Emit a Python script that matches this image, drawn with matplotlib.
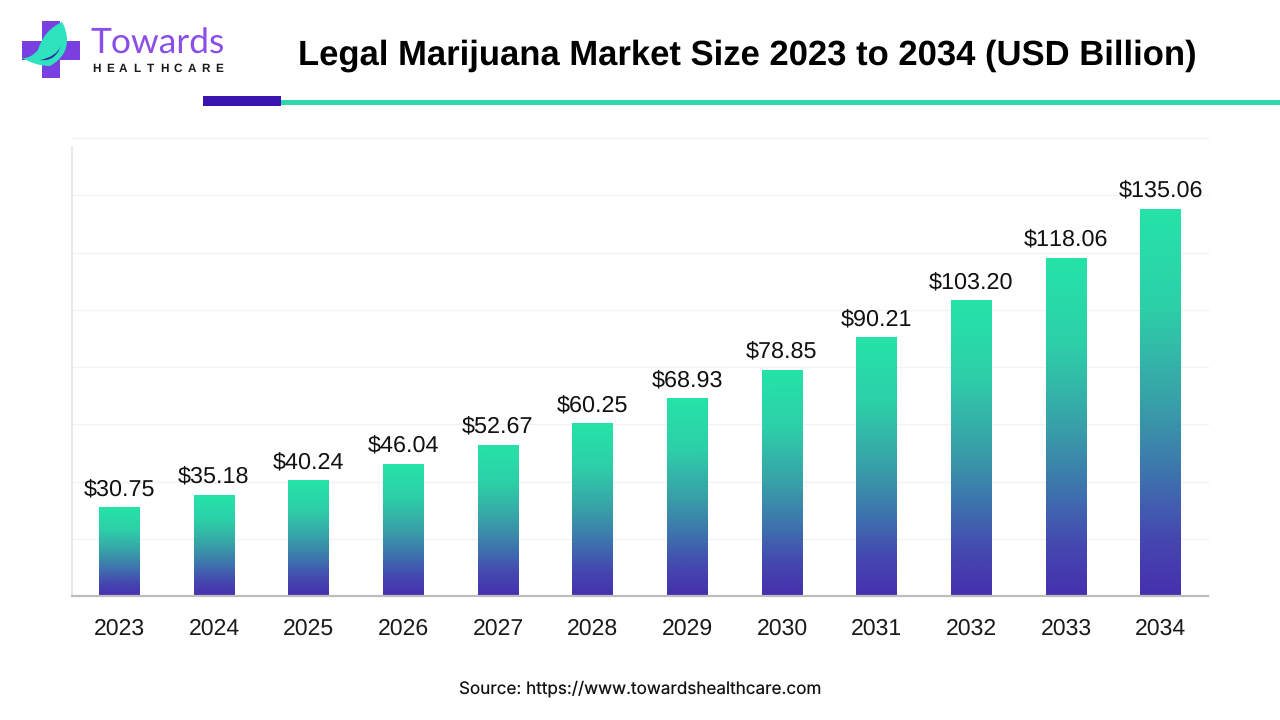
import numpy as np
import matplotlib
matplotlib.use('Agg')
import matplotlib.pyplot as plt
from matplotlib.colors import LinearSegmentedColormap
from matplotlib.patches import Rectangle, PathPatch
from matplotlib.path import Path

years = ['2023', '2024', '2025', '2026', '2027', '2028', '2029', '2030', '2031', '2032', '2033', '2034']
values = [30.75, 35.18, 40.24, 46.04, 52.67, 60.25, 68.93, 78.85, 90.21, 103.20, 118.06, 135.06]
labels = ['$30.75', '$35.18', '$40.24', '$46.04', '$52.67', '$60.25', '$68.93', '$78.85', '$90.21', '$103.20', '$118.06', '$135.06']
grid_vals = [20, 40, 60, 80, 100, 120, 140, 160]

plt.rcParams['font.family'] = ['Liberation Sans', 'DejaVu Sans']
plt.rcParams['text.hinting'] = 'no_hinting'
plt.rcParams['text.kerning_factor'] = 6

W, H = 1280, 720
fig = plt.figure(figsize=(W / 100, H / 100), dpi=100, facecolor='white')

# chart area, pixel box from the reference
ax = fig.add_axes([71.5 / W, 1 - 596 / H, (1208 - 71.5) / W, (596 - 138) / H])
for g in grid_vals:
    ax.axhline(g, color='#f2f2f2', lw=0.9, zorder=1, clip_on=False)

cmap = LinearSegmentedColormap.from_list('bar', [
    (0, '#4530AE'), (0.15, '#4548B0'), (0.3, '#3E70AE'), (0.5, '#38A0A8'),
    (0.75, '#2DD0A8'), (1, '#25E3A8')])
grad = np.linspace(0, 1, 256).reshape(-1, 1)
bar_w = 0.43
for i, v in enumerate(values):
    ax.imshow(grad, origin='lower', cmap=cmap, aspect='auto', zorder=2,
              extent=(i - bar_w / 2, i + bar_w / 2, 0, v))
    ax.text(i, v + 2.7, labels[i], ha='center', va='bottom', fontsize=16.8, color='#111111', zorder=3)
ax.set_xlim(-0.505, 11.5)
ax.set_ylim(0, 160)

ax.set_xticks(range(len(years)))
ax.set_xticklabels(years, fontsize=16.6, color='#1a1a1a')
ax.set_yticks([])
ax.tick_params(axis='x', length=0, pad=16)
ax.set_facecolor('none')
for s in ['top', 'right']:
    ax.spines[s].set_visible(False)
ax.spines['left'].set_color('#e6e6e6')
ax.spines['left'].set_linewidth(1.3)
ax.spines['left'].set_bounds(0, 157)
ax.spines['bottom'].set_color('#bdbdbd')
ax.spines['bottom'].set_linewidth(1.6)

# overlay in pixel coordinates for header, rule and logo
ov = fig.add_axes([0, 0, 1, 1], facecolor='none')
ov.set_xlim(0, W)
ov.set_ylim(H, 0)
ov.axis('off')

ov.text(747.5, 56, 'Legal Marijuana Market Size 2023 to 2034 (USD Billion)', ha='center', va='center',
        fontsize=24.9, fontweight='bold', color='black')
ov.add_patch(Rectangle((203, 96), 78, 10, fc='#3A14AE', ec='none'))
ov.add_patch(Rectangle((281, 100), 999, 5, fc='#2FD8AC', ec='none'))
ov.text(640, 689, 'Source: https://www.towardshealthcare.com', ha='center', va='center',
        fontsize=12.3, color='#111111', family=['Inter', 'DejaVu Sans'])

# logo
purple = '#7A3FE0'
ov.add_patch(Rectangle((42, 21), 18, 57, fc=purple, ec='none'))
ov.add_patch(Rectangle((22, 41), 58, 19, fc=purple, ec='none'))
C = Path.CURVE3
leaf = Path([(62, 22), (44, 30), (38, 50), (30, 59), (22, 58), (36, 66), (50, 66), (68, 56), (67, 38), (66, 28), (62, 22)],
            [Path.MOVETO, C, C, C, C, C, C, C, C, C, C])
ov.add_patch(PathPatch(leaf, fc='#2FE3BE', ec='none'))
arc = Path([(40, 60), (55, 62), (61, 46), (56, 57), (40, 60)], [Path.MOVETO, C, C, C, C])
ov.add_patch(PathPatch(arc, fc='#2E2A9E', ec='none'))
ov.text(90, 44, 'Towards', ha='left', va='center', fontsize=25.5, color='#8A4FE8', family=['Lato', 'DejaVu Sans'])
for k, ch in enumerate('HEALTHCARE'):
    ov.text(96 + k * 13.7, 69, ch, ha='center', va='center', fontsize=8.5, fontweight='bold', color='#1a1a1a')

fig.savefig('out.png', dpi=100)
